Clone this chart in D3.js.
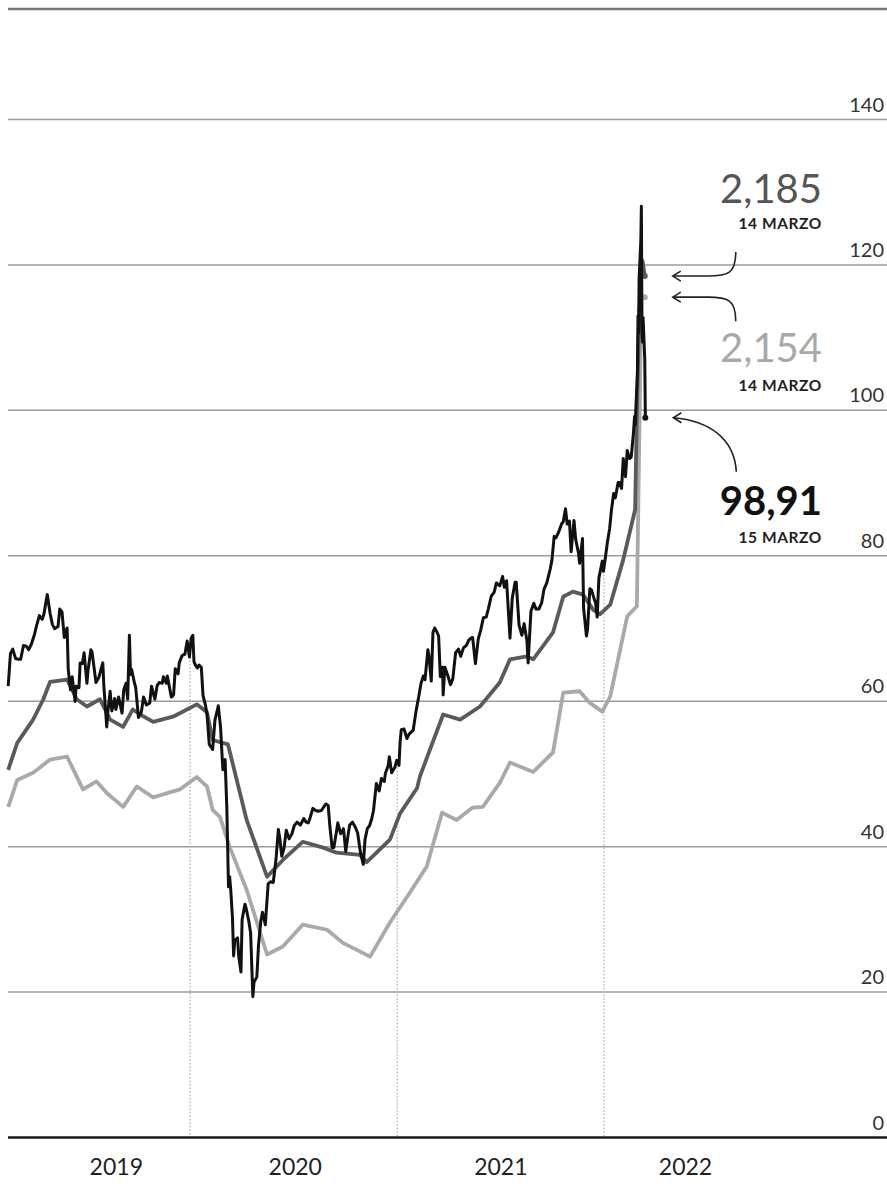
<!DOCTYPE html>
<html>
<head>
<meta charset="utf-8">
<script src="https://cdn.jsdelivr.net/npm/d3@7"></script>
<style>
html, body { margin:0; padding:0; background:#fff; }
svg { display:block; font-family: Lato, "Open Sans", sans-serif; }
</style>
</head>
<body>
<div id="chart"></div>
<script>
// ---- data ----
var yTicks = [0, 20, 40, 60, 80, 100, 120, 140];
var yearLabels = ["2019", "2020", "2021", "2022"];
var yearLabelDates = ["2019-08-23", "2020-07-04", "2021-07-02", "2022-05-24"];
var yearStarts = ["2020-01-01", "2021-01-01", "2022-01-01"];

// black, daily-ish
var brent = [
 ["2019-02-14",62.0],["2019-02-18",66.5],["2019-02-22",67.1],["2019-02-27",65.8],["2019-03-04",65.7],["2019-03-08",65.7],
 ["2019-03-13",67.6],["2019-03-18",67.5],["2019-03-22",67.0],["2019-03-27",67.8],["2019-04-01",69.0],["2019-04-05",70.3],
 ["2019-04-10",71.7],["2019-04-15",71.2],["2019-04-18",71.9],["2019-04-24",74.6],["2019-04-29",72.0],["2019-05-03",70.5],
 ["2019-05-07",69.9],["2019-05-13",70.2],["2019-05-16",72.6],["2019-05-20",72.2],["2019-05-24",68.7],["2019-05-29",70.0],
 ["2019-05-31",64.3],["2019-06-04",61.5],["2019-06-07",63.3],["2019-06-12",59.9],["2019-06-14",62.0],["2019-06-19",61.8],
 ["2019-06-21",65.2],["2019-06-25",65.1],["2019-06-28",66.6],["2019-07-03",62.4],["2019-07-05",64.2],["2019-07-10",67.0],
 ["2019-07-12",66.7],["2019-07-17",63.7],["2019-07-19",62.5],["2019-07-24",63.2],["2019-07-31",65.2],["2019-08-02",61.9],
 ["2019-08-07",56.4],["2019-08-09",58.5],["2019-08-13",61.3],["2019-08-16",58.6],["2019-08-21",60.3],["2019-08-23",58.8],
 ["2019-08-28",60.5],["2019-09-03",58.3],["2019-09-06",61.5],["2019-09-10",62.4],["2019-09-13",60.2],["2019-09-16",69.0],
 ["2019-09-18",63.6],["2019-09-20",64.3],["2019-09-25",62.4],["2019-09-27",61.9],["2019-10-02",57.7],["2019-10-07",58.4],
 ["2019-10-11",60.5],["2019-10-16",59.4],["2019-10-22",59.7],["2019-10-25",62.0],["2019-10-31",60.2],["2019-11-04",62.1],
 ["2019-11-08",62.5],["2019-11-13",62.4],["2019-11-15",63.3],["2019-11-20",62.4],["2019-11-22",63.4],["2019-11-29",60.5],
 ["2019-12-03",60.8],["2019-12-06",64.4],["2019-12-11",63.7],["2019-12-13",65.2],["2019-12-18",66.2],["2019-12-23",66.4],
 ["2019-12-27",68.2],["2019-12-31",66.0],
 ["2020-01-03",68.6],["2020-01-06",69.0],["2020-01-08",65.4],["2020-01-10",65.0],["2020-01-14",64.5],["2020-01-17",64.9],
 ["2020-01-21",64.6],["2020-01-24",60.7],["2020-01-28",59.5],["2020-01-31",58.2],["2020-02-04",54.0],["2020-02-10",53.3],
 ["2020-02-14",57.3],["2020-02-20",59.3],["2020-02-24",56.3],["2020-02-28",50.5],["2020-03-03",51.9],["2020-03-06",45.3],
 ["2020-03-09",34.4],["2020-03-11",35.8],["2020-03-13",33.9],["2020-03-16",30.1],["2020-03-18",24.9],["2020-03-20",27.0],
 ["2020-03-25",27.4],["2020-03-27",24.9],["2020-03-31",22.7],["2020-04-02",29.9],["2020-04-07",32.0],["2020-04-09",31.5],
 ["2020-04-14",29.6],["2020-04-17",28.1],["2020-04-21",19.3],["2020-04-23",21.3],["2020-04-28",22.0],["2020-05-01",26.4],
 ["2020-05-05",29.7],["2020-05-08",30.9],["2020-05-13",29.2],["2020-05-18",34.8],["2020-05-22",35.1],["2020-05-27",35.0],
 ["2020-06-01",38.3],["2020-06-05",42.3],["2020-06-08",40.8],["2020-06-11",38.6],["2020-06-15",39.7],["2020-06-19",42.2],
 ["2020-06-24",41.0],["2020-06-29",41.7],["2020-07-03",42.8],["2020-07-08",43.3],["2020-07-14",42.9],["2020-07-20",43.8],
 ["2020-07-24",43.3],["2020-07-28",43.2],["2020-07-31",43.9],["2020-08-05",45.2],["2020-08-10",44.9],["2020-08-14",44.8],
 ["2020-08-20",44.9],["2020-08-26",45.6],["2020-08-28",45.8],["2020-09-01",45.6],["2020-09-04",42.7],["2020-09-08",39.8],
 ["2020-09-11",39.8],["2020-09-16",42.2],["2020-09-18",43.2],["2020-09-23",41.7],["2020-09-28",42.4],["2020-10-02",39.3],
 ["2020-10-07",42.0],["2020-10-09",42.9],["2020-10-14",43.3],["2020-10-19",42.6],["2020-10-23",41.8],["2020-10-28",39.1],
 ["2020-11-02",37.5],["2020-11-05",40.9],["2020-11-09",42.4],["2020-11-13",42.8],["2020-11-17",43.8],["2020-11-20",44.9],
 ["2020-11-25",48.6],["2020-11-30",47.6],["2020-12-04",49.3],["2020-12-09",48.9],["2020-12-11",50.0],["2020-12-16",51.1],
 ["2020-12-18",52.3],["2020-12-22",50.1],["2020-12-28",50.9],["2020-12-31",51.8],
 ["2021-01-04",51.1],["2021-01-06",54.3],["2021-01-08",56.0],["2021-01-13",56.1],["2021-01-18",54.8],["2021-01-22",55.4],
 ["2021-01-27",55.8],["2021-01-29",55.9],["2021-02-03",58.5],["2021-02-08",60.6],["2021-02-12",62.4],["2021-02-16",63.4],
 ["2021-02-19",62.9],["2021-02-24",67.0],["2021-02-26",66.1],["2021-03-02",62.7],["2021-03-05",69.4],["2021-03-08",70.0],
 ["2021-03-11",69.6],["2021-03-15",68.9],["2021-03-18",63.3],["2021-03-22",64.6],["2021-03-23",60.8],["2021-03-26",64.6],
 ["2021-03-31",63.5],["2021-04-05",62.2],["2021-04-09",63.0],["2021-04-14",66.6],["2021-04-19",67.1],["2021-04-23",66.1],
 ["2021-04-28",67.3],["2021-05-03",67.6],["2021-05-07",68.3],["2021-05-11",68.6],["2021-05-14",68.7],["2021-05-19",65.1],
 ["2021-05-24",68.5],["2021-05-28",69.6],["2021-06-02",71.4],["2021-06-07",71.5],["2021-06-11",72.7],["2021-06-16",74.4],
 ["2021-06-21",74.9],["2021-06-25",76.2],["2021-07-01",75.8],["2021-07-06",77.1],["2021-07-09",75.6],["2021-07-13",76.5],
 ["2021-07-19",68.6],["2021-07-23",74.1],["2021-07-28",76.3],["2021-07-30",76.3],["2021-08-04",70.4],["2021-08-09",69.0],
 ["2021-08-13",70.6],["2021-08-18",68.2],["2021-08-20",65.2],["2021-08-25",72.3],["2021-08-30",73.4],["2021-09-03",72.6],
 ["2021-09-08",72.6],["2021-09-13",73.5],["2021-09-17",75.3],["2021-09-22",76.2],["2021-09-28",78.1],["2021-10-01",79.3],
 ["2021-10-05",82.6],["2021-10-08",82.4],["2021-10-13",83.2],["2021-10-18",84.3],["2021-10-21",84.6],["2021-10-25",86.4],
 ["2021-10-28",84.3],["2021-11-01",84.7],["2021-11-04",80.5],["2021-11-09",84.8],["2021-11-12",82.2],["2021-11-17",80.3],
 ["2021-11-19",78.9],["2021-11-24",82.3],["2021-11-26",72.7],["2021-12-01",68.9],["2021-12-03",69.9],["2021-12-07",75.4],
 ["2021-12-10",75.2],["2021-12-15",73.9],["2021-12-17",73.5],["2021-12-20",71.5],["2021-12-23",76.9],["2021-12-29",79.2],
 ["2021-12-31",77.8],
 ["2022-01-04",80.0],["2022-01-07",81.8],["2022-01-11",83.7],["2022-01-14",86.1],["2022-01-18",88.5],["2022-01-21",87.9],
 ["2022-01-26",90.0],["2022-01-28",90.0],["2022-02-01",89.2],["2022-02-04",93.3],["2022-02-08",90.8],["2022-02-11",94.4],
 ["2022-02-15",93.3],["2022-02-18",93.5],["2022-02-22",96.8],["2022-02-24",99.1],["2022-02-25",97.9],["2022-03-01",105.0],
 ["2022-03-02",112.9],["2022-03-03",110.5],["2022-03-04",118.1],["2022-03-07",123.2],["2022-03-08",128.0],["2022-03-09",111.1],
 ["2022-03-10",109.3],["2022-03-11",112.7],["2022-03-14",106.9],["2022-03-15",98.91]
];

// dark grey
var diesel = [
 ["2019-02-14",50.5],["2019-03-02",54.2],["2019-03-30",57.4],["2019-04-17",60.2],["2019-04-29",62.6],["2019-05-29",62.9],
 ["2019-06-15",60.2],["2019-07-03",59.2],["2019-07-26",60.2],["2019-08-13",57.4],["2019-09-05",56.4],["2019-09-22",58.8],
 ["2019-10-05",58.1],["2019-10-28",57.1],["2019-12-02",57.8],["2020-01-13",59.5],["2020-01-31",58.4],["2020-02-10",54.6],
 ["2020-03-08",54.0],["2020-04-10",43.6],["2020-05-16",35.8],["2020-06-13",38.1],["2020-07-18",40.6],["2020-08-23",39.8],
 ["2020-09-16",39.1],["2020-10-27",38.8],["2020-11-08",37.8],["2020-12-19",40.9],["2021-01-06",44.5],["2021-02-05",48.0],
 ["2021-02-10",49.6],["2021-03-23",58.1],["2021-04-22",57.4],["2021-05-27",59.2],["2021-07-01",62.5],["2021-07-19",65.7],
 ["2021-08-18",66.1],["2021-08-29",65.7],["2021-10-03",69.4],["2021-10-21",74.3],["2021-11-07",75.0],["2021-11-25",74.6],
 ["2021-12-13",72.5],["2021-12-25",71.9],["2022-01-12",73.2],["2022-02-04",79.4],["2022-02-25",86.3],["2022-02-28",99.7],
 ["2022-03-04",112.0],["2022-03-08",120.0],["2022-03-10",120.5],["2022-03-14",118.4]
];

// light grey
var petrol = [
 ["2019-02-14",45.4],["2019-03-02",49.1],["2019-03-30",50.1],["2019-04-29",51.9],["2019-05-29",52.3],["2019-06-26",47.8],
 ["2019-07-20",48.9],["2019-08-07",47.3],["2019-09-05",45.4],["2019-09-29",48.2],["2019-10-28",46.7],["2019-12-14",47.8],
 ["2020-01-13",49.5],["2020-01-31",48.2],["2020-02-10",45.0],["2020-02-23",44.0],["2020-03-11",39.9],["2020-04-10",34.0],
 ["2020-05-16",25.1],["2020-06-13",26.2],["2020-07-18",29.2],["2020-08-30",28.5],["2020-09-27",26.7],["2020-11-14",24.8],
 ["2020-12-19",29.5],["2021-01-23",33.6],["2021-02-22",37.2],["2021-03-21",44.6],["2021-04-16",43.6],["2021-05-14",45.3],
 ["2021-06-01",45.4],["2021-07-01",48.7],["2021-07-19",51.5],["2021-08-29",50.2],["2021-10-03",52.9],["2021-10-21",61.1],
 ["2021-11-19",61.3],["2021-12-07",59.7],["2021-12-29",58.5],["2022-01-12",60.6],["2022-02-11",71.6],["2022-02-28",73.0],
 ["2022-03-05",100.0],["2022-03-08",115.6],["2022-03-14",115.5]
];

var annoValues = ["2,185", "2,154", "98,91"];
var annoDays = ["14 MARZO", "14 MARZO", "15 MARZO"];

// ---- chart ----
var W = 887, H = 1191;
var left = 8;
var parse = d3.timeParse("%Y-%m-%d");
function rows(arr){ return arr.map(function(d){ return { date: parse(d[0]), value: d[1] }; }); }
var black = rows(brent), dark = rows(diesel), light = rows(petrol);

var svg = d3.select("#chart").append("svg")
	.attr("width", W)
	.attr("height", H);

var x = d3.scaleTime()
	.domain([parse("2020-01-01"), parse("2022-01-01")])
	.range([190, 604]);
var y = d3.scaleLinear()
	.domain([0, 140])
	.range([1137, 119]);

// top frame line
svg.append("line")
	.attr("x1", left).attr("x2", W)
	.attr("y1", 9).attr("y2", 9)
	.attr("stroke", "#777").attr("stroke-width", 2.5);

// horizontal grid + value labels
var yAxis = svg.append("g")
	.attr("transform", "translate(" + W + ",0)")
	.call(d3.axisLeft(y).tickValues(yTicks).tickSize(W - left).tickFormat(d3.format("d")));
yAxis.select(".domain").remove();
yAxis.selectAll(".tick line")
	.attr("stroke", function(d){ return d === 0 ? "#1a1a1a" : "#9c9c9c"; })
	.attr("stroke-width", function(d){ return d === 0 ? 2.5 : 1.5; });
yAxis.selectAll(".tick text")
	.attr("x", -3)
	.attr("dy", -8)
	.attr("text-anchor", "end")
	.style("font-family", "Lato, sans-serif")
	.style("font-size", "20px")
	.attr("fill", "#333");

// dotted year separators, dropping from the black line to the baseline
var bis = d3.bisector(function(d){ return d.date; }).left;
svg.append("g").selectAll("line")
	.data(yearStarts.map(parse))
	.join("line")
	.attr("x1", x).attr("x2", x)
	.attr("y1", function(d){ var i = bis(black, d); return y(black[Math.max(0, i - 1)].value); })
	.attr("y2", y(0) - 1)
	.attr("stroke", "#bbb")
	.attr("stroke-width", 1.5)
	.attr("stroke-dasharray", "1.5,2");

// year labels
var xAxis = svg.append("g")
	.attr("transform", "translate(0," + y(0) + ")")
	.call(d3.axisBottom(x).tickValues(yearLabelDates.map(parse)).tickSize(0)
		.tickFormat(function(d, i){ return yearLabels[i]; }));
xAxis.select(".domain").remove();
xAxis.selectAll(".tick text")
	.attr("y", 38)
	.attr("dy", 0)
	.style("font-family", "Lato, sans-serif")
	.style("font-size", "23px")
	.attr("fill", "#222");

// series
var line = d3.line()
	.x(function(d){ return x(d.date); })
	.y(function(d){ return y(d.value); });

var series = [
	{ data: light, color: "#a9a9a9", width: 3.8 },
	{ data: dark,  color: "#5a5a5a", width: 3.8 },
	{ data: black, color: "#111",    width: 3 }
];
series.forEach(function(s){
	svg.append("path")
		.datum(s.data)
		.attr("d", line)
		.attr("fill", "none")
		.attr("stroke", s.color)
		.attr("stroke-width", s.width)
		.attr("stroke-linejoin", "round");
	var last = s.data[s.data.length - 1];
	svg.append("circle")
		.attr("cx", x(last.date)).attr("cy", y(last.value))
		.attr("r", 3).attr("fill", s.color);
});

// annotations: big value, date, curved arrow to the series end
var notes = [
	{ s: dark,  color: "#555", weight: 400, ty: 203, dy: 229, tail: [63, -24] },
	{ s: light, color: "#a8a8a8", weight: 400, ty: 362, dy: 391, tail: [63, 24] },
	{ s: black, color: "#111", weight: 700, ty: 515, dy: 543, tail: [63, 54] }
];
var ann = svg.append("g");
notes.forEach(function(n, i){
	var last = n.s[n.s.length - 1];
	var tx = x(last.date) + 28, ty = y(last.value);
	var ex = tx + n.tail[0], ey = ty + n.tail[1];
	var p;
	if (i < 2) {
		p = "M" + ex + "," + ey + " C" + ex + "," + (ty + (ey - ty) * 0.1) + " " + (ex - 8) + "," + ty + " " + (ex - 28) + "," + ty + " L" + tx + "," + ty;
	} else {
		p = "M" + ex + "," + ey + " C" + (ex - 2) + "," + (ty + 20) + " " + (ex - 28) + "," + (ty + 3) + " " + tx + "," + ty;
	}
	ann.append("path").attr("d", p)
		.attr("fill", "none").attr("stroke", "#222").attr("stroke-width", 1.6);
	ann.append("path")
		.attr("d", "M" + (tx + 8) + "," + (ty - 5) + " L" + tx + "," + ty + " L" + (tx + 8) + "," + (ty + 5))
		.attr("fill", "none").attr("stroke", "#222").attr("stroke-width", 1.6);

	ann.append("text")
		.attr("x", 822).attr("y", n.ty)
		.attr("text-anchor", "end")
		.style("font-family", "Lato, sans-serif")
		.style("font-size", "40px")
		.style("font-weight", n.weight)
		.attr("fill", n.color)
		.text(annoValues[i]);
	ann.append("text")
		.attr("x", 822).attr("y", n.dy)
		.attr("text-anchor", "end")
		.style("font-family", "Lato, sans-serif")
		.style("font-size", "15.5px")
		.style("font-weight", 700)
		.style("letter-spacing", "0.6px")
		.attr("fill", "#222")
		.text(annoDays[i]);
});
</script>
</body>
</html>
